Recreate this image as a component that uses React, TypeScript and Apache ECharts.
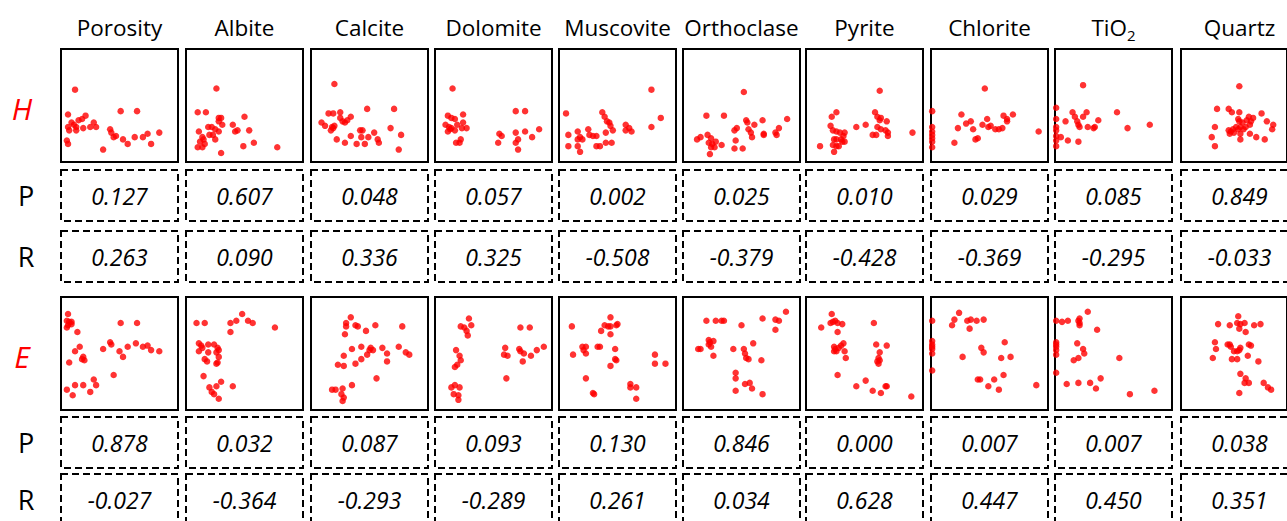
import React, { useEffect, useRef } from 'react';
import * as echarts from 'echarts';

// ---------- data ----------
const MINERALS = ['Porosity', 'Albite', 'Calcite', 'Dolomite', 'Muscovite', 'Orthoclase', 'Pyrite', 'Chlorite', 'TiO2', 'Quartz'];

const P_H = ['0.127', '0.607', '0.048', '0.057', '0.002', '0.025', '0.010', '0.029', '0.085', '0.849'];
const R_H = ['0.263', '0.090', '0.336', '0.325', '-0.508', '-0.379', '-0.428', '-0.369', '-0.295', '-0.033'];
const P_E = ['0.878', '0.032', '0.087', '0.093', '0.130', '0.846', '0.000', '0.007', '0.007', '0.038'];
const R_E = ['-0.027', '-0.364', '-0.293', '-0.289', '0.261', '0.034', '0.628', '0.447', '0.450', '0.351'];

// H row scatter points (normalized x, y)
const H_POROSITY = [[12, 64], [6, 42], [9, 35], [6, 31], [7, 28], [11, 33], [13, 31], [15, 37], [18, 38], [21, 41], [19, 30], [13, 28], [25, 31], [28, 35], [30, 31], [5, 19], [6, 16], [36, 11], [51, 45], [65, 45], [42, 29], [43, 26], [47, 23], [45, 22], [53, 20], [57, 16], [63, 22], [70, 22], [74, 25], [77, 16], [84, 26]];
const H_ALBITE = [[26, 65], [10, 44], [17, 44], [28, 39], [30, 39], [28, 36], [31, 33], [19, 31], [22, 31], [25, 29], [28, 27], [11, 27], [20, 24], [23, 24], [14, 22], [15, 20], [12, 18], [16, 16], [10, 13], [14, 13], [25, 20], [30, 8], [40, 33], [42, 27], [44, 28], [50, 40], [54, 28], [49, 14], [58, 17], [78, 13]];
const H_CALCITE = [[20, 69], [15, 43], [19, 43], [25, 44], [9, 35], [12, 32], [18, 31], [19, 30], [17, 28], [20, 32], [25, 39], [27, 36], [29, 35], [31, 37], [34, 40], [22, 20], [29, 17], [34, 23], [39, 16], [42, 28], [44, 28], [43, 22], [46, 16], [49, 22], [54, 26], [57, 20], [58, 17], [48, 47], [71, 47], [68, 30], [77, 24], [75, 11]];
const H_DOLOMITE = [[15, 65], [11, 41], [14, 39], [17, 38], [24, 42], [9, 33], [12, 31], [14, 30], [11, 27], [13, 29], [17, 28], [19, 33], [24, 35], [23, 30], [27, 30], [18, 17], [21, 17], [22, 20], [69, 45], [77, 45], [54, 17], [55, 25], [57, 23], [69, 26], [71, 20], [69, 17], [71, 11], [77, 27], [83, 22], [89, 29]];
const H_MUSCOVITE = [[6, 43], [8, 24], [16, 27], [16, 20], [18, 22], [20, 20], [16, 14], [18, 9], [8, 14], [25, 29], [26, 24], [29, 23], [32, 23], [37, 44], [39, 40], [41, 36], [43, 35], [44, 32], [46, 28], [40, 26], [40, 17], [45, 17], [32, 14], [35, 14], [57, 33], [57, 28], [60, 30], [62, 27], [79, 64], [79, 31], [87, 39]];
const H_ORTHOCLASE = [[52, 62], [20, 41], [35, 41], [12, 20], [15, 22], [21, 24], [24, 21], [22, 17], [25, 16], [24, 13], [27, 13], [23, 7], [28, 18], [33, 15], [44, 12], [51, 12], [45, 19], [44, 28], [46, 30], [54, 37], [55, 35], [56, 29], [58, 26], [59, 22], [61, 33], [68, 37], [69, 25], [69, 24], [79, 26], [80, 24], [82, 30], [89, 38]];
const H_PYRITE = [[63, 63], [12, 14], [22, 40], [26, 44], [21, 32], [23, 28], [26, 27], [29, 26], [33, 26], [32, 23], [30, 20], [26, 20], [24, 20], [31, 18], [33, 18], [23, 15], [26, 14], [28, 14], [24, 9], [43, 31], [51, 33], [59, 44], [61, 40], [63, 37], [64, 39], [69, 36], [61, 31], [64, 29], [68, 28], [70, 26], [57, 24], [60, 24], [70, 23], [91, 26]];
const H_CHLORITE = [[46, 65], [1, 45], [1, 31], [1, 27], [1, 24], [1, 21], [1, 18], [1, 13], [20, 17], [23, 30], [26, 42], [30, 34], [34, 36], [36, 29], [38, 20], [40, 21], [44, 33], [48, 38], [49, 31], [51, 32], [55, 29], [58, 29], [61, 30], [62, 41], [65, 36], [65, 38], [70, 42], [92, 27]];
const H_TIO2 = [[24, 68], [1, 48], [1, 38], [1, 31], [1, 28], [1, 23], [1, 19], [1, 14], [5, 22], [11, 19], [20, 18], [9, 36], [15, 44], [17, 40], [19, 36], [20, 33], [21, 31], [24, 40], [27, 44], [28, 31], [33, 30], [34, 31], [37, 37], [53, 44], [62, 30], [81, 33]];
const H_QUARTZ = [[55, 67], [34, 47], [45, 47], [48, 44], [55, 44], [64, 40], [68, 39], [76, 43], [54, 38], [55, 36], [58, 35], [62, 37], [66, 36], [65, 33], [61, 31], [56, 31], [52, 31], [49, 29], [45, 28], [47, 27], [46, 25], [50, 26], [54, 29], [56, 25], [59, 29], [65, 25], [71, 22], [79, 20], [81, 36], [87, 33], [86, 29], [56, 20], [32, 31], [29, 22], [32, 14]];

// E row scatter points (normalized x, y)
const E_POROSITY = [[6, 85], [5, 79], [7, 78], [9, 78], [6, 75], [5, 73], [9, 76], [14, 69], [16, 56], [12, 52], [7, 42], [19, 47], [18, 45], [20, 44], [36, 54], [42, 60], [43, 58], [50, 52], [53, 47], [51, 77], [65, 77], [57, 56], [64, 59], [70, 56], [74, 57], [77, 53], [84, 52], [45, 31], [5, 18], [10, 13], [12, 22], [19, 22], [25, 16], [28, 27], [30, 22]];
const E_ALBITE = [[9, 77], [16, 77], [38, 77], [43, 79], [48, 85], [53, 79], [57, 77], [38, 69], [76, 73], [11, 59], [13, 57], [14, 55], [19, 58], [24, 58], [27, 55], [28, 53], [26, 51], [19, 51], [11, 52], [16, 45], [18, 43], [28, 47], [27, 42], [26, 41], [15, 30], [20, 20], [26, 21], [30, 25], [22, 16], [24, 14], [28, 10], [40, 21]];
const E_CALCITE = [[34, 82], [30, 77], [30, 74], [38, 75], [40, 74], [47, 70], [55, 75], [78, 74], [29, 67], [35, 54], [43, 56], [28, 48], [23, 40], [28, 39], [38, 41], [43, 45], [48, 49], [51, 55], [53, 53], [50, 53], [61, 55], [65, 50], [65, 43], [75, 56], [81, 51], [84, 49], [56, 28], [35, 22], [18, 18], [21, 18], [27, 19], [26, 14], [28, 11], [27, 8]];
const E_DOLOMITE = [[29, 81], [22, 74], [25, 73], [31, 75], [27, 70], [28, 66], [18, 53], [21, 48], [22, 44], [19, 40], [17, 38], [14, 20], [17, 22], [21, 20], [16, 14], [20, 13], [20, 9], [60, 55], [59, 49], [62, 48], [73, 73], [81, 73], [72, 54], [73, 52], [76, 50], [82, 48], [75, 43], [87, 53], [93, 56], [61, 28]];
const E_MUSCOVITE = [[11, 74], [36, 70], [39, 75], [42, 74], [44, 82], [44, 74], [49, 75], [50, 76], [44, 67], [12, 49], [20, 56], [21, 53], [23, 56], [23, 50], [33, 56], [35, 56], [48, 54], [48, 45], [49, 44], [44, 39], [23, 28], [29, 15], [30, 14], [61, 23], [61, 20], [66, 20], [66, 10], [82, 49], [82, 41], [91, 41]];
const E_ORTHOCLASE = [[20, 79], [28, 79], [33, 79], [35, 79], [50, 75], [68, 81], [79, 80], [82, 79], [79, 71], [88, 87], [13, 54], [15, 54], [22, 62], [23, 60], [26, 61], [22, 58], [24, 56], [26, 48], [43, 54], [52, 54], [53, 50], [54, 46], [56, 45], [60, 59], [67, 44], [45, 33], [45, 28], [53, 23], [57, 24], [59, 19], [45, 17], [68, 14]];
const E_PYRITE = [[22, 85], [21, 77], [23, 78], [25, 79], [27, 77], [31, 76], [13, 73], [27, 69], [24, 56], [25, 54], [26, 52], [28, 55], [30, 57], [32, 59], [33, 52], [34, 46], [24, 52], [27, 31], [43, 21], [51, 26], [57, 17], [64, 15], [68, 21], [69, 21], [90, 12], [58, 77], [60, 58], [69, 57], [63, 51], [62, 46], [61, 43], [62, 41], [63, 44]];
const E_CHLORITE = [[24, 86], [20, 80], [18, 75], [31, 79], [34, 80], [39, 79], [45, 80], [33, 72], [1, 79], [1, 61], [1, 58], [1, 56], [1, 54], [1, 50], [1, 35], [27, 47], [43, 55], [45, 51], [63, 60], [60, 46], [68, 47], [40, 27], [42, 27], [49, 21], [54, 27], [58, 18], [62, 31], [90, 22]];
const E_TIO2 = [[1, 79], [6, 78], [11, 79], [20, 79], [21, 81], [21, 77], [21, 75], [28, 87], [36, 71], [1, 60], [1, 58], [1, 56], [1, 53], [1, 49], [1, 33], [19, 59], [24, 54], [25, 50], [20, 46], [16, 44], [55, 46], [10, 23], [20, 24], [30, 24], [35, 19], [39, 28], [64, 14], [85, 17]];
const E_QUARTZ = [[54, 83], [35, 76], [46, 75], [53, 77], [56, 76], [60, 77], [55, 72], [69, 75], [75, 76], [61, 69], [32, 60], [33, 54], [30, 46], [44, 58], [46, 58], [47, 56], [50, 52], [53, 52], [56, 55], [55, 53], [64, 58], [66, 57], [48, 45], [53, 45], [63, 48], [73, 43], [56, 32], [61, 28], [60, 24], [64, 24], [55, 15], [78, 24], [82, 20], [85, 18]];

const H_POINTS = [H_POROSITY, H_ALBITE, H_CALCITE, H_DOLOMITE, H_MUSCOVITE, H_ORTHOCLASE, H_PYRITE, H_CHLORITE, H_TIO2, H_QUARTZ];
const E_POINTS = [E_POROSITY, E_ALBITE, E_CALCITE, E_DOLOMITE, E_MUSCOVITE, E_ORTHOCLASE, E_PYRITE, E_CHLORITE, E_TIO2, E_QUARTZ];

// ---------- layout ----------
const COL_LEFT = [61, 186, 311, 435, 559, 683, 806, 931, 1055, 1181];
const BOX_W = 117;
const SCATTER_H = 113;
const DASH_H = 51;
const ROWS = [
  { name: 'H', points: H_POINTS, p: P_H, r: R_H, top: 49, pTop: 170, rTop: 231, labelY: 108 },
  { name: 'E', points: E_POINTS, p: P_E, r: R_E, top: 297, pTop: 417, rTop: 474, labelY: 356 },
];

const FONT = '"Open Sans", "Liberation Sans", sans-serif';

export default function App() {
  const ref = useRef<HTMLDivElement>(null);

  useEffect(() => {
    document.body.style.margin = '0';
    const chart = echarts.init(ref.current as HTMLDivElement, null, { renderer: 'svg' });

    const grid: any[] = [];
    const xAxis: any[] = [];
    const yAxis: any[] = [];
    const series: any[] = [];
    const graphic: any[] = [];

    ROWS.forEach((row) => {
      COL_LEFT.forEach((left, c) => {
        const idx = grid.length;
        grid.push({
          left, top: row.top, width: BOX_W, height: SCATTER_H,
          show: true, borderColor: '#000', borderWidth: 2, backgroundColor: '#fff',
        });
        xAxis.push({ type: 'value', gridIndex: idx, min: 0, max: 100, show: false, splitLine: { show: false } });
        yAxis.push({ type: 'value', gridIndex: idx, min: 0, max: 100, show: false, splitLine: { show: false } });
        series.push({
          type: 'scatter', xAxisIndex: idx, yAxisIndex: idx, data: row.points[c],
          symbolSize: 6.5, itemStyle: { color: '#ff0000' }, silent: true, z: 3,
        });
        // dashed P and R boxes
        [[row.pTop, row.p[c]], [row.rTop, row.r[c]]].forEach(([t, v]) => {
          graphic.push({
            type: 'rect', silent: true,
            shape: { x: left, y: t as number, width: BOX_W, height: DASH_H },
            style: { fill: 'none', stroke: '#000', lineWidth: 2, lineDash: [7, 4] },
          });
          graphic.push({
            type: 'text', silent: true, x: left + BOX_W / 2, y: (t as number) + DASH_H / 2,
            style: {
              text: v as string, fill: '#000', font: `italic 23px ${FONT}`,
              textAlign: 'center', textVerticalAlign: 'middle',
            },
          });
        });
      });
      graphic.push({
        type: 'text', silent: true, x: 22, y: row.labelY,
        style: { text: row.name, fill: '#ff0000', font: `italic 30px ${FONT}`, textAlign: 'center', textVerticalAlign: 'middle' },
      });
      graphic.push({
        type: 'text', silent: true, x: 26, y: row.pTop + DASH_H / 2,
        style: { text: 'P', fill: '#000', font: `27px ${FONT}`, textAlign: 'center', textVerticalAlign: 'middle' },
      });
      graphic.push({
        type: 'text', silent: true, x: 26, y: row.rTop + DASH_H / 2,
        style: { text: 'R', fill: '#000', font: `27px ${FONT}`, textAlign: 'center', textVerticalAlign: 'middle' },
      });
    });

    MINERALS.forEach((m, c) => {
      const isTio = m === 'TiO2';
      graphic.push({
        type: 'text', silent: true, x: COL_LEFT[c] + BOX_W / 2, y: 27,
        style: {
          text: isTio ? '{b|TiO}{s|2}' : m,
          fill: '#000', font: `22.5px ${FONT}`,
          textAlign: 'center', textVerticalAlign: 'middle',
          rich: isTio ? {
            b: { fontSize: 22.5, fontFamily: FONT, lineHeight: 30, fill: '#000' },
            s: { fontSize: 15, fontFamily: FONT, lineHeight: 13, verticalAlign: 'bottom', fill: '#000' },
          } : undefined,
        },
      });
    });

    chart.setOption({
      animation: false,
      backgroundColor: '#fff',
      grid, xAxis, yAxis, series, graphic,
    });
    return () => chart.dispose();
  }, []);

  return <div ref={ref} style={{ position: 'fixed', left: 0, top: 0, width: 1287, height: 521 }} />;
}
